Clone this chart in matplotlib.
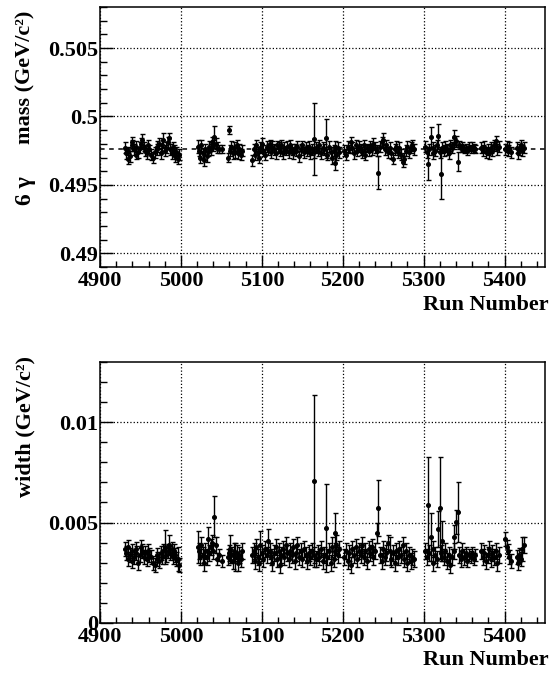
import numpy as np
import matplotlib

matplotlib.use('Agg')
import matplotlib.pyplot as plt
from matplotlib.ticker import MultipleLocator, FuncFormatter

plt.rcParams['font.family'] = ['Liberation Serif', 'DejaVu Serif']
plt.rcParams['font.weight'] = 'bold'

# run numbers, grouped by data-taking period
runs = [
    4931, 4932, 4934, 4935, 4937, 4939, 4940, 4942, 4944, 4945,
    4947, 4949, 4951, 4952, 4954, 4956, 4958, 4959, 4961, 4963,
    4966, 4968, 4970, 4971, 4973, 4975, 4977, 4978, 4980, 4982,
    4984, 4985, 4987, 4989, 4990, 4991, 4993, 4994, 4996, 4998,
    5021, 5022, 5024, 5025, 5027, 5029, 5030, 5032, 5033, 5035,
    5037, 5038, 5040, 5041, 5043, 5045, 5047, 5051, 5058, 5059,
    5061, 5062, 5064, 5066, 5067, 5069, 5071, 5072, 5074, 5075,
    5088, 5090, 5091, 5093, 5095, 5096, 5098, 5100, 5102, 5104,
    5106, 5108, 5110, 5111, 5113, 5115, 5117, 5119, 5121, 5122,
    5124, 5126, 5128, 5130, 5131, 5133, 5135, 5137, 5139, 5141,
    5142, 5144, 5146, 5148, 5150, 5152, 5154, 5156, 5158, 5160,
    5162, 5164, 5165, 5167, 5169, 5171, 5173, 5175, 5177, 5179,
    5181, 5183, 5185, 5187, 5189, 5190, 5191, 5192, 5194, 5196,
    5202, 5204, 5206, 5208, 5210, 5212, 5214, 5216, 5218, 5220,
    5222, 5224, 5226, 5228, 5230, 5232, 5234, 5236, 5238, 5240,
    5242, 5244, 5246, 5248, 5250, 5252, 5254, 5256, 5258, 5260,
    5262, 5264, 5266, 5268, 5270, 5272, 5274, 5276, 5278, 5280,
    5282, 5284, 5286, 5288,
    5302, 5304, 5305, 5307, 5309, 5311, 5312, 5314, 5316, 5318,
    5320, 5321, 5323, 5325, 5327, 5329, 5331, 5333, 5335, 5337,
    5338, 5340, 5342, 5344, 5346, 5348, 5350, 5352, 5354, 5356,
    5358, 5360, 5362, 5364,
    5371, 5373, 5375, 5377, 5379, 5381, 5383, 5385, 5387, 5389,
    5391, 5393,
    5401, 5403, 5404, 5406, 5408,
    5415, 5417, 5418, 5420, 5422, 5424,
]

# fitted 6-gamma mass (GeV/c^2)
mass = [
    .4977, .4973, .4969, .4975, .4971, .4979, .4981, .4976, .4972, .4978,
    .4974, .4977, .4980, .4983, .4978, .4975, .4973, .4979, .4976, .4972,
    .4970, .4974, .4978, .4976, .4980, .4973, .4979, .4983, .4975, .4977,
    .4981, .4984, .4976, .4973, .4978, .4975, .4971, .4974, .4969, .4972,
    .4978, .4975, .4970, .4979, .4973, .4968, .4976, .4971, .4974, .4978,
    .4976, .4981, .4979, .4985, .4980, .4977, .4976, .4976, .4970, .4990,
    .4975, .4978, .4973, .4977, .4974, .4979, .4973, .4976, .4972, .4975,
    .4968, .4976, .4972, .4979, .4974, .4970, .4977, .4980, .4975, .4972,
    .4978, .4976, .4980, .4974, .4978, .4976, .4973, .4979, .4977, .4975,
    .4979, .4973, .4977, .4975, .4978, .4974, .4979, .4976, .4973, .4977,
    .4975, .4978, .4971, .4976, .4979, .4974, .4977, .4975, .4978, .4973,
    .4976, .4974, .49835, .4977, .4975, .4979, .4973, .4977, .4976, .4984,
    .4972, .4978, .4974, .4970, .4975, .4978, .4966, .4972, .4977, .4974,
    .4975, .4972, .4978, .4976, .4981, .4977, .4973, .4979, .4975, .4978,
    .4976, .4974, .4979, .4972, .4977, .4975, .4978, .4976, .4980, .4977,
    .4975, .4959, .4978, .4981, .4983, .4976, .4979, .4974, .4977, .4973,
    .4969, .4976, .4978, .4974, .4977, .4972, .4967, .4969, .4975, .4978,
    .4974, .4977, .4979, .4976,
    .4978, .4974, .49655, .4976, .4985, .4977, .4973, .4975, .4979, .49855,
    .4974, .4958, .4977, .4975, .4978, .4976, .4973, .4979, .4977, .4980,
    .4985, .4982, .4967, .4979, .4977, .4978, .4976, .4977, .4975, .4978,
    .4976, .4978, .4977, .4976,
    .4977, .4975, .4978, .4974, .4976, .4973, .4977, .4975, .4979, .4982,
    .4976, .4978,
    .4976, .4978, .4975, .4977, .4974,
    .4977, .4973, .4976, .4979, .4975, .4977,
]

# mass uncertainty (MeV/c^2)
mass_err_mev = [
    0.4, 0.4, 0.4, 0.3, 0.4, 0.4, 0.4, 0.4, 0.3, 0.4,
    0.4, 0.4, 0.4, 0.4, 0.3, 0.4, 0.4, 0.4, 0.3, 0.4,
    0.4, 0.4, 0.4, 0.4, 0.4, 0.4, 0.4, 0.5, 0.4, 0.4,
    0.4, 0.4, 0.4, 0.4, 0.3, 0.4, 0.4, 0.4, 0.4, 0.4,
    0.5, 0.4, 0.4, 0.4, 0.4, 0.4, 0.4, 0.4, 0.3, 0.4,
    0.4, 0.4, 0.4, 0.8, 0.4, 0.4, 0.3, 0.3, 0.3, 0.3,
    0.4, 0.4, 0.4, 0.4, 0.4, 0.4, 0.4, 0.4, 0.4, 0.4,
    0.4, 0.4, 0.4, 0.4, 0.4, 0.4, 0.4, 0.4, 0.4, 0.4,
    0.4, 0.4, 0.3, 0.4, 0.4, 0.4, 0.4, 0.3, 0.4, 0.4,
    0.4, 0.4, 0.4, 0.3, 0.4, 0.4, 0.4, 0.4, 0.4, 0.3,
    0.4, 0.4, 0.4, 0.4, 0.3, 0.4, 0.4, 0.4, 0.4, 0.4,
    0.4, 0.4, 2.6, 0.4, 0.4, 0.4, 0.4, 0.4, 0.4, 1.4,
    0.4, 0.4, 0.4, 0.5, 0.4, 0.4, 0.5, 0.4, 0.4, 0.4,
    0.4, 0.4, 0.4, 0.3, 0.4, 0.4, 0.4, 0.4, 0.4, 0.4,
    0.4, 0.4, 0.4, 0.4, 0.3, 0.4, 0.4, 0.4, 0.4, 0.4,
    0.4, 1.2, 0.4, 0.4, 0.5, 0.4, 0.4, 0.4, 0.4, 0.4,
    0.4, 0.4, 0.4, 0.4, 0.4, 0.4, 0.4, 0.4, 0.4, 0.4,
    0.4, 0.4, 0.4, 0.4,
    0.4, 0.4, 1.2, 0.4, 0.7, 0.4, 0.4, 0.4, 0.4, 0.9,
    0.4, 1.8, 0.4, 0.4, 0.4, 0.4, 0.4, 0.4, 0.4, 0.4,
    0.5, 0.4, 0.7, 0.3, 0.3, 0.3, 0.3, 0.3, 0.3, 0.3,
    0.3, 0.3, 0.3, 0.3,
    0.4, 0.4, 0.4, 0.4, 0.4, 0.4, 0.4, 0.4, 0.4, 0.4,
    0.4, 0.4,
    0.4, 0.4, 0.4, 0.4, 0.4,
    0.4, 0.4, 0.4, 0.4, 0.4, 0.4,
]

# fitted width (MeV/c^2)
width_mev = [
    3.7, 3.5, 3.2, 3.8, 3.4, 3.6, 3.1, 3.3, 3.7, 3.5,
    3.0, 3.4, 3.8, 3.6, 3.3, 3.5, 3.2, 3.6, 3.4, 3.3,
    3.0, 2.9, 3.2, 3.4, 3.1, 3.5, 3.3, 3.6, 3.8, 3.4,
    3.6, 3.9, 3.5, 3.7, 3.3, 3.6, 3.4, 3.2, 3.2, 2.9,
    3.8, 3.6, 3.3, 3.9, 3.4, 3.0, 3.6, 3.3, 4.2, 3.5,
    3.8, 4.0, 3.6, 5.3, 3.9, 3.2, 3.4, 3.1, 3.3, 3.5,
    3.7, 3.4, 3.1, 3.6, 3.3, 3.5, 3.0, 3.4, 3.2, 3.6,
    3.4, 3.6, 3.1, 3.8, 3.3, 3.0, 3.9, 3.5, 3.2, 3.7,
    3.4, 4.1, 3.6, 3.3, 3.0, 3.5, 3.8, 3.2, 3.6, 2.9,
    3.4, 3.7, 3.3, 3.9, 3.5, 3.2, 3.6, 3.4, 3.8, 3.1,
    3.5, 3.9, 3.3, 3.6, 3.2, 3.7, 3.4, 3.1, 3.5, 3.3,
    3.6, 3.4, 7.08, 3.2, 3.5, 3.3, 3.7, 3.1, 3.4, 4.74,
    3.3, 3.6, 3.0, 3.8, 3.2, 3.6, 4.46, 3.9, 3.4, 3.7,
    3.3, 3.6, 3.1, 3.5, 2.9, 3.7, 3.4, 3.8, 3.2, 3.6,
    3.4, 3.9, 3.3, 3.6, 3.1, 3.7, 3.5, 3.8, 3.3, 3.6,
    4.5, 5.73, 3.4, 3.1, 3.7, 3.3, 3.5, 4.0, 3.6, 3.2,
    3.5, 3.0, 3.6, 3.3, 3.7, 3.4, 3.9, 3.2, 3.6, 3.0,
    3.4, 3.1, 3.3, 3.2,
    3.6, 3.3, 5.87, 3.5, 4.3, 3.0, 3.7, 3.4, 3.2, 4.66,
    5.73, 3.5, 4.1, 3.3, 3.6, 3.1, 3.4, 2.9, 3.3, 3.6,
    4.3, 5.04, 5.52, 3.4, 3.2, 3.6, 3.3, 3.5, 3.1, 3.4,
    3.3, 3.5, 3.2, 3.4,
    3.6, 3.3, 3.5, 3.1, 3.4, 3.7, 3.2, 3.5, 3.3, 3.6,
    3.0, 3.4,
    4.2, 3.8, 3.6, 3.3, 3.1,
    3.3, 3.0, 3.4, 3.2, 3.7, 3.9,
]

# width uncertainty (MeV/c^2)
width_err_mev = [
    0.35, 0.35, 0.35, 0.35, 0.35, 0.35, 0.35, 0.35, 0.35, 0.35,
    0.35, 0.35, 0.35, 0.35, 0.35, 0.35, 0.35, 0.35, 0.35, 0.35,
    0.35, 0.35, 0.35, 0.35, 0.35, 0.35, 0.35, 0.35, 0.85, 0.35,
    0.35, 0.5, 0.35, 0.35, 0.35, 0.35, 0.35, 0.35, 0.6, 0.35,
    0.8, 0.4, 0.4, 0.4, 0.4, 0.4, 0.4, 0.4, 0.6, 0.4,
    0.4, 0.4, 0.4, 1.0, 0.4, 0.3, 0.3, 0.3, 0.4, 0.4,
    0.7, 0.4, 0.4, 0.4, 0.7, 0.4, 0.4, 0.4, 0.4, 0.4,
    0.4, 0.4, 0.4, 0.4, 0.4, 0.4, 0.7, 0.4, 0.4, 0.4,
    0.4, 0.6, 0.4, 0.4, 0.4, 0.4, 0.4, 0.4, 0.4, 0.4,
    0.4, 0.4, 0.4, 0.4, 0.4, 0.4, 0.4, 0.4, 0.4, 0.4,
    0.4, 0.4, 0.4, 0.4, 0.4, 0.4, 0.4, 0.4, 0.4, 0.4,
    0.4, 0.4, 4.3, 0.4, 0.4, 0.4, 0.4, 0.4, 0.4, 2.2,
    0.4, 0.4, 0.4, 0.5, 0.4, 0.4, 1.0, 0.5, 0.4, 0.4,
    0.4, 0.4, 0.4, 0.4, 0.4, 0.4, 0.4, 0.4, 0.4, 0.4,
    0.4, 0.4, 0.4, 0.4, 0.4, 0.4, 0.4, 0.4, 0.4, 0.4,
    0.5, 1.4, 0.4, 0.4, 0.4, 0.4, 0.4, 0.4, 0.7, 0.4,
    0.4, 0.4, 0.4, 0.4, 0.4, 0.4, 0.4, 0.4, 0.4, 0.4,
    0.4, 0.4, 0.4, 0.4,
    0.4, 0.4, 2.4, 0.4, 1.2, 0.4, 0.4, 0.4, 0.4, 0.9,
    2.55, 0.4, 1.0, 0.4, 0.4, 0.4, 0.4, 0.4, 0.4, 0.4,
    0.6, 0.6, 1.5, 0.4, 0.4, 0.4, 0.4, 0.3, 0.3, 0.3,
    0.3, 0.3, 0.3, 0.3,
    0.4, 0.4, 0.4, 0.4, 0.4, 0.4, 0.4, 0.4, 0.4, 0.4,
    0.4, 0.4,
    0.35, 0.35, 0.35, 0.35, 0.35,
    0.35, 0.35, 0.35, 0.35, 0.6, 0.4,
]

mean_mass = 0.49762

runs = np.array(runs)
mass = np.array(mass)
mass_err = np.array(mass_err_mev) / 1000.0
width = np.array(width_mev) / 1000.0
width_err = np.array(width_err_mev) / 1000.0

fig = plt.figure(figsize=(5.52, 6.75), dpi=100)
ax1 = fig.add_axes([0.1812, 0.6044, 0.8061, 0.3852])
ax2 = fig.add_axes([0.1812, 0.0775, 0.8061, 0.3858])

eb = dict(fmt='o', ms=2.6, color='black', ecolor='black', elinewidth=1.0,
          capsize=1.8, capthick=1.0)
ax1.errorbar(runs, mass, yerr=mass_err, **eb)
ax1.axhline(mean_mass, color='black', lw=1.1, ls=(0, (3, 3)), zorder=1)
ax2.errorbar(runs, width, yerr=width_err, **eb)

ax1.set_ylim(0.489, 0.508)
ax2.set_ylim(0.0, 0.013)

fmt = FuncFormatter(lambda v, p: f'{v:.3f}'.rstrip('0').rstrip('.'))
for ax in (ax1, ax2):
    ax.yaxis.set_major_locator(MultipleLocator(0.005))
    ax.yaxis.set_minor_locator(MultipleLocator(0.001))
    ax.yaxis.set_major_formatter(fmt)
    ax.set_xlim(4900, 5450)
    ax.xaxis.set_major_locator(MultipleLocator(100))
    ax.xaxis.set_minor_locator(MultipleLocator(20))
    ax.grid(True, which='major', color='black', ls=':', lw=0.9)
    ax.set_axisbelow(True)
    ax.tick_params(which='both', direction='in', top=False, right=False,
                   labelsize=16, width=1.0)
    ax.tick_params(axis='x', which='major', length=9, pad=3)
    ax.tick_params(axis='x', which='minor', length=4.5)
    ax.tick_params(axis='y', which='major', length=9, pad=1.5)
    ax.tick_params(axis='y', which='minor', length=5)
    for s in ax.spines.values():
        s.set_linewidth(1.1)
    for lab in ax.get_xticklabels() + ax.get_yticklabels():
        lab.set_fontweight('bold')

# axis titles placed as in the ROOT canvas
fig.text(0.994, 0.548, 'Run Number', ha='right', va='center', fontsize=16, fontweight='bold')
fig.text(0.994, 0.022, 'Run Number', ha='right', va='center', fontsize=16, fontweight='bold')
fig.text(0.047, 0.985, 'mass (GeV/c\u00b2)', rotation=90, ha='center', va='top',
         fontsize=16, fontweight='bold')
fig.text(0.047, 0.696, '6 \u03b3', rotation=90, ha='center', va='bottom',
         fontsize=17, fontweight='bold')
fig.text(0.047, 0.472, 'width (GeV/c\u00b2)', rotation=90, ha='center', va='top',
         fontsize=16, fontweight='bold')

plt.savefig('out.png', dpi=100)
